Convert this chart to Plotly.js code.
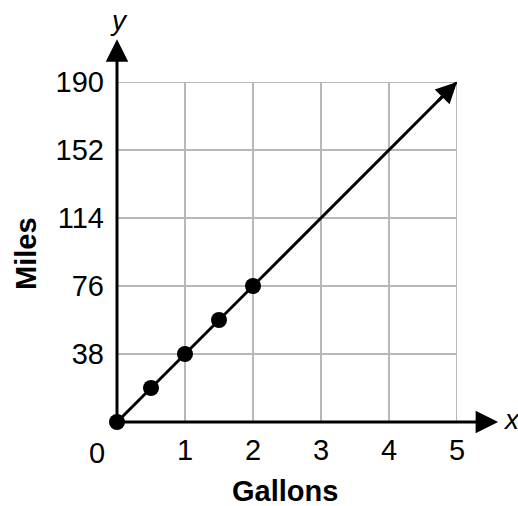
<!DOCTYPE html>
<html>
<head>
<meta charset="utf-8">
<script src="https://cdn.plot.ly/plotly-3.0.1.min.js"></script>
<style>html,body{margin:0;padding:0;background:#fff;}#chart{width:518px;height:506px;}</style>
</head>
<body>
<div id="chart"></div>
<script>
const gallons = [0, 0.5, 1, 1.5, 2];
const miles = [0, 19, 38, 57, 76];
const lineX = [0, 5];
const lineY = [0, 190];
const xTicks = [1, 2, 3, 4, 5];
const yTicks = [38, 76, 114, 152, 190];
const xTitle = 'Gallons';
const yTitle = 'Miles';

const FONT = 'Liberation Sans, Arial, sans-serif';
const n = lineX.length - 1;
const GRID = '#b8b8b8';

const traces = [
  {x: lineX, y: lineY, mode: 'lines', line: {color: '#000', width: 3}, cliponaxis: false, hoverinfo: 'skip', showlegend: false},
  {x: gallons, y: miles, mode: 'markers', marker: {color: '#000', size: 16}, cliponaxis: false, showlegend: false}
];

const xMax = xTicks[xTicks.length - 1];
const yMax = yTicks[yTicks.length - 1];

const txt = (o) => Object.assign({showarrow: false, xanchor: 'center', yanchor: 'middle'}, o);

const layout = {
  width: 518, height: 506,
  margin: {l: 117, r: 61, t: 82, b: 84, autoexpand: false},
  paper_bgcolor: '#fff', plot_bgcolor: '#fff',
  showlegend: false,
  font: {family: FONT, color: '#000', size: 29},
  xaxis: {
    range: [0, xMax], tickvals: xTicks, ticktext: xTicks.map(String),
    showgrid: true, gridcolor: GRID, gridwidth: 2,
    zeroline: false, showline: false, ticks: '', ticklabelstandoff: 8,
    tickfont: {family: FONT, size: 29, color: '#000'}, fixedrange: true
  },
  yaxis: {
    range: [0, yMax], tickvals: yTicks, ticktext: yTicks.map(String),
    showgrid: true, gridcolor: GRID, gridwidth: 2,
    zeroline: false, showline: false, ticks: '', ticklabelstandoff: 12,
    tickfont: {family: FONT, size: 29, color: '#000'}, fixedrange: true
  },
  shapes: [
    {type: 'line', xref: 'x', yref: 'y', x0: xMax, x1: xMax, y0: 0, y1: yMax, line: {color: GRID, width: 2}, layer: 'below'},
    {type: 'line', xref: 'x', yref: 'y', x0: 0, x1: xMax, y0: yMax, y1: yMax, line: {color: GRID, width: 2}, layer: 'below'}
  ],
  annotations: [
    // x axis with arrow
    {xref: 'paper', yref: 'paper', x: 1.121, y: 0, ax: -381, ay: 0, axref: 'pixel', ayref: 'pixel',
     showarrow: true, arrowhead: 2, arrowwidth: 3, arrowsize: 1.5, arrowcolor: '#000', text: ''},
    // y axis with arrow
    {xref: 'paper', yref: 'paper', x: 0, y: 1.126, ax: 0, ay: 383, axref: 'pixel', ayref: 'pixel',
     showarrow: true, arrowhead: 2, arrowwidth: 3, arrowsize: 1.5, arrowcolor: '#000', text: ''},
    // arrow head on the line
    {xref: 'x', yref: 'y', axref: 'x', ayref: 'y', x: lineX[n], y: lineY[n],
     ax: lineX[n] - 0.3, ay: lineY[n] - 0.3 * (lineY[n] - lineY[0]) / (lineX[n] - lineX[0]),
     showarrow: true, arrowhead: 2, arrowwidth: 3, arrowsize: 1.4, arrowcolor: '#000', text: ''},
    // axis letters
    txt({xref: 'paper', yref: 'paper', x: 0.006, y: 1.182, text: '<i>y</i>',
     font: {family: FONT, size: 28, color: '#000'}}),
    txt({xref: 'paper', yref: 'paper', x: 1.159, y: 0.008, text: '<i>x</i>',
     font: {family: FONT, size: 28, color: '#000'}}),
    // origin label
    txt({xref: 'x', yref: 'y', x: 0, y: 0, xshift: -20, yshift: -31, text: '0',
     font: {family: FONT, size: 29, color: '#000'}}),
    // axis titles
    txt({xref: 'paper', yref: 'paper', x: 0.494, y: -0.203, text: '<b>' + xTitle + '</b>',
     font: {family: FONT, size: 29, color: '#000'}}),
    txt({xref: 'paper', yref: 'paper', x: -0.268, y: 0.497, text: '<b>' + yTitle + '</b>',
     textangle: -90, font: {family: FONT, size: 29, color: '#000'}})
  ]
};

Plotly.newPlot('chart', traces, layout, {displayModeBar: false, staticPlot: true});
</script>
</body>
</html>
